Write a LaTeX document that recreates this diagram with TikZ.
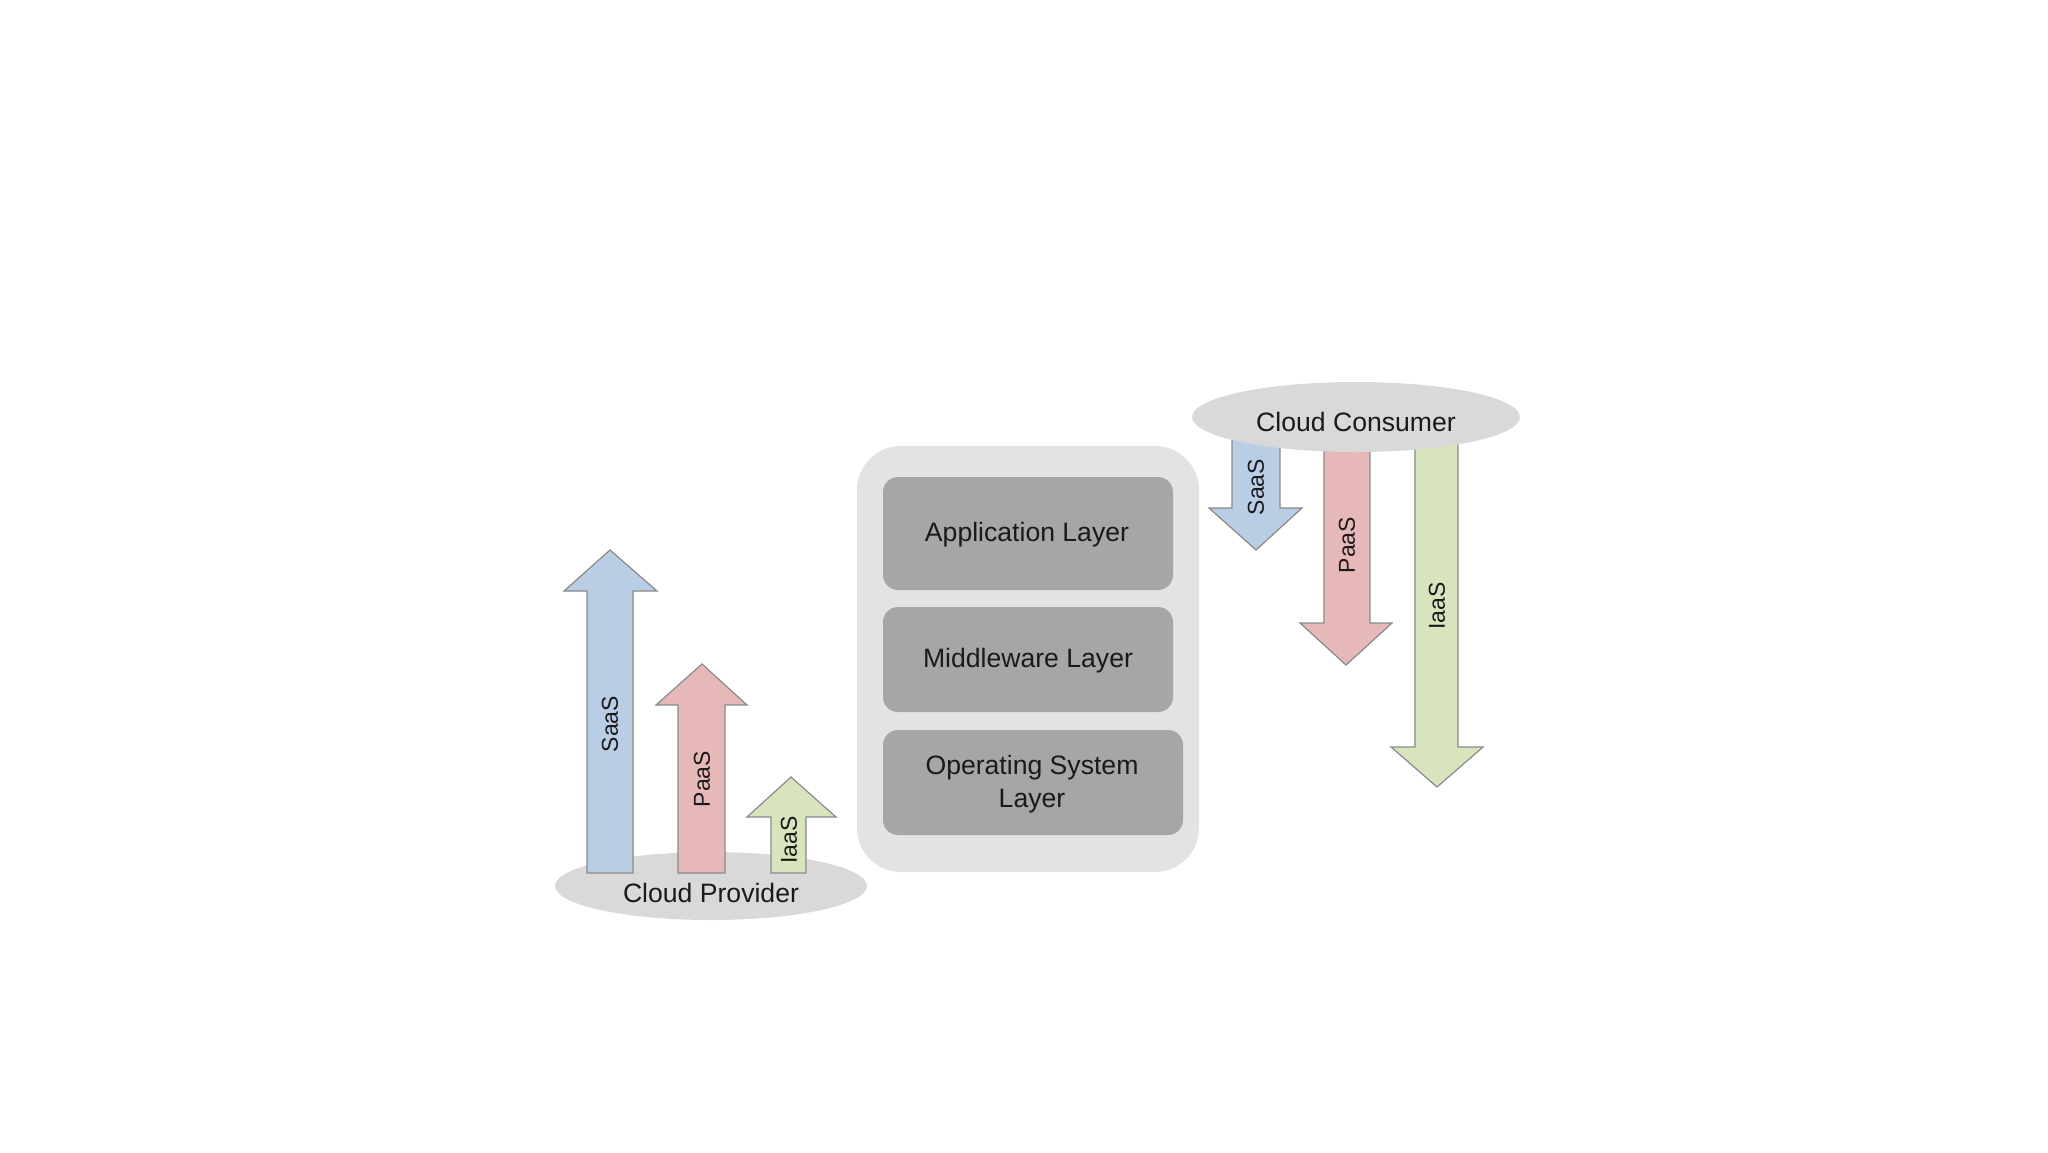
\documentclass[tikz,border=0pt]{standalone}
\usepackage{fontspec}
\setmainfont{Liberation Sans}
\usetikzlibrary{shapes.geometric}
\definecolor{saasblue}{HTML}{B9CDE5}
\definecolor{paaspink}{HTML}{E6B9B8}
\definecolor{iaasgreen}{HTML}{D7E4BD}
\definecolor{outerbox}{HTML}{E3E3E3}
\definecolor{layerbox}{HTML}{A6A6A6}
\definecolor{ellgrey}{HTML}{D9D9D9}
\definecolor{arrline}{HTML}{8A8A8A}
\definecolor{txt}{HTML}{1A1A1A}
\begin{document}
\begin{tikzpicture}[x=0.5pt,y=-0.5pt,
  blockarr/.style={draw=arrline,line width=0.6pt,line join=miter},
  arrlabel/.style={rotate=90,font=\fontsize{11.5}{13}\selectfont,text=txt,inner sep=0pt},
  bigtext/.style={font=\fontsize{13.3}{15}\selectfont,text=txt,align=center},
  layer/.style={fill=layerbox,draw=none,rounded corners=7.5pt,inner sep=0pt},
  ell/.style={ellipse,fill=ellgrey,draw=none,inner sep=0pt}]
\useasboundingbox[fill=white] (0,0) rectangle (2048,1152);

% ---------- Cloud provider ----------
\node[ell,minimum width=156pt,minimum height=34pt] (provell) at (711,886) {};
\node[bigtext] (provider) at (711,893) {Cloud Provider};

% up arrows
\filldraw[blockarr,fill=saasblue] (587,873) -- (587,591) -- (564,591) -- (610,550) -- (657,591) -- (633,591) -- (633,873) -- cycle;
\filldraw[blockarr,fill=paaspink] (678,873) -- (678,705) -- (656,705) -- (702,664) -- (747,705) -- (725,705) -- (725,873) -- cycle;
\filldraw[blockarr,fill=iaasgreen] (771,873) -- (771,817) -- (747,817) -- (791,777) -- (836,817) -- (806,817) -- (806,873) -- cycle;
\node[arrlabel] (psaas) at (610,724) {SaaS};
\node[arrlabel] (ppaas) at (702,779) {PaaS};
\node[arrlabel] (piaas) at (789,840) {IaaS};

% ---------- Layers ----------
\node[fill=outerbox,draw=none,rounded corners=22pt,minimum width=171pt,minimum height=213pt,inner sep=0pt] (stack) at (1028,659) {};
\node[layer,minimum width=145pt,minimum height=56.5pt] (app) at (1028,533.5) {};
\node[bigtext] (apptext) at (1027,535) {Application Layer};
\node[layer,minimum width=145pt,minimum height=52.5pt] (mid) at (1028,659.5) {};
\node[bigtext] (midtext) at (1028,661) {Middleware Layer};
\node[layer,minimum width=150pt,minimum height=52.5pt] (os) at (1033,782.5) {};
\node[bigtext,font=\fontsize{13.3}{16.5}\selectfont] (ostext) at (1032,784) {Operating System\\Layer};

% ---------- Cloud consumer ----------
\filldraw[blockarr,fill=saasblue] (1232,430) -- (1232,508) -- (1209,508) -- (1256,550) -- (1302,508) -- (1280,508) -- (1280,430) -- cycle;
\filldraw[blockarr,fill=paaspink] (1324,430) -- (1324,623) -- (1300,623) -- (1346,665) -- (1392,623) -- (1370,623) -- (1370,430) -- cycle;
\filldraw[blockarr,fill=iaasgreen] (1415,430) -- (1415,747) -- (1391,747) -- (1437,787) -- (1483,747) -- (1458,747) -- (1458,430) -- cycle;
\node[ell,minimum width=164pt,minimum height=35pt] (consell) at (1356,417) {};
\node[bigtext] (consumer) at (1356,422) {Cloud Consumer};
\node[arrlabel] (csaas) at (1256,487) {SaaS};
\node[arrlabel] (cpaas) at (1347,545) {PaaS};
\node[arrlabel] (ciaas) at (1437,606) {IaaS};
\end{tikzpicture}
\end{document}
